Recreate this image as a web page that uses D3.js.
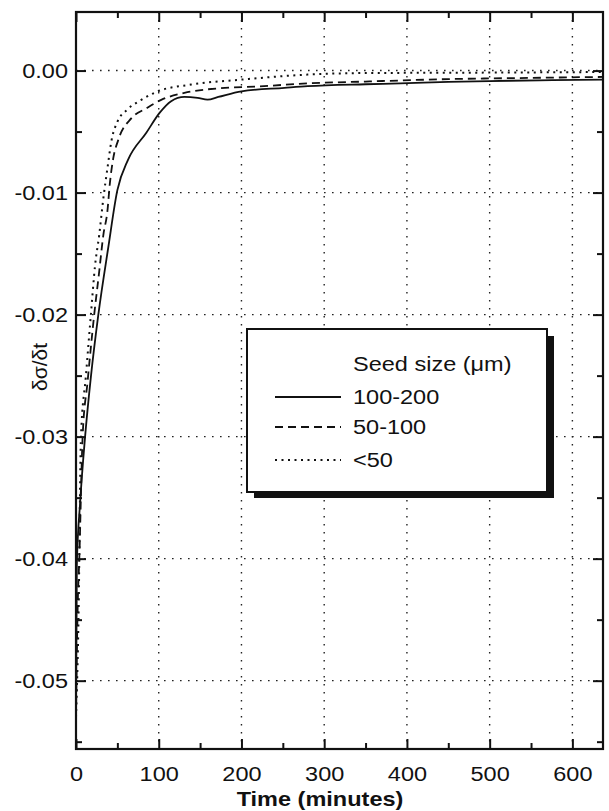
<!DOCTYPE html>
<html><head><meta charset="utf-8">
<script src="https://cdn.jsdelivr.net/npm/d3@7"></script>
<style>
body{margin:0;background:#fff}
text{font-family:"Liberation Sans",Arial,Helvetica,sans-serif;fill:#111}
</style>
</head><body>
<svg id="chart" width="609" height="811"></svg>
<script>
// ---- data ----
const seriesNames = ["100-200", "50-100", "<50"];
const legendTitle = "Seed size (\u03bcm)";
const xTickValues = [0, 100, 200, 300, 400, 500, 600];
const yTickValues = [0, -0.01, -0.02, -0.03, -0.04, -0.05];
const yTickLabels = ["0.00", "-0.01", "-0.02", "-0.03", "-0.04", "-0.05"];
const xTitle = "Time (minutes)";
const yTitle = "\u03b4\u03c3/\u03b4t";

const tSolid = [0, 1, 5, 11, 18, 27, 39, 50, 63, 85, 101, 115, 131, 147, 159, 172, 200, 252, 280, 350, 392, 450, 500, 560, 637];
const vSolid = [-0.052, -0.0405, -0.0354, -0.030, -0.0251, -0.020, -0.0145, -0.0098, -0.0073, -0.0051, -0.00347, -0.00251, -0.00216, -0.00224, -0.00238, -0.00216, -0.0017, -0.00142, -0.00128, -0.00112, -0.00105, -0.00092, -0.00086, -0.0008, -0.00074];

const tDashed = [0, 2, 4, 8, 14, 22, 28, 33, 38, 41, 45, 51, 67, 85, 103, 131, 180, 220, 280, 350, 450, 550, 637];
const vDashed = [-0.053, -0.044, -0.040, -0.030, -0.0255, -0.020, -0.0165, -0.0135, -0.0115, -0.0092, -0.0072, -0.0057, -0.0039, -0.0031, -0.0024, -0.00183, -0.00142, -0.0013, -0.00105, -0.0009, -0.0007, -0.0006, -0.00052];

const tDotted = [0, 3, 6, 12, 18, 23, 28, 33, 38, 43, 50, 62, 79, 99, 139, 200, 280, 350, 450, 550, 637];
const vDotted = [-0.053, -0.045, -0.030, -0.025, -0.020, -0.016, -0.0135, -0.0105, -0.0080, -0.0057, -0.0042, -0.0032, -0.0024, -0.0017, -0.00115, -0.00074, -0.00033, -0.0002, -0.00018, -0.00015, -0.00012];

// ---- layout ----
const svg = d3.select("#chart");
const L = 76, R = 603, T = 12, B = 749;
const SX = 1.12; // horizontal stretch of the scanned lettering
const x = d3.scaleLinear().domain([0, 637]).range([L, R]);
const y = d3.scaleLinear().domain([0.0048, -0.0556]).range([T, B]);

// grid
const grid = svg.append("g").attr("stroke", "#222").attr("stroke-width", 1.4).attr("stroke-dasharray", "1.6,6.4");
xTickValues.filter(d => d > 0).forEach(d => {
  grid.append("line").attr("x1", x(d)).attr("x2", x(d)).attr("y1", T).attr("y2", B);
});
yTickValues.forEach(d => {
  grid.append("line").attr("x1", L).attr("x2", R).attr("y1", y(d)).attr("y2", y(d));
});

const xMinor = d3.range(50, 637, 100);
const yMinor = [-0.005, -0.015, -0.025, -0.035, -0.045, -0.055];

function styleAxis(g) {
  g.select(".domain").remove();
  g.selectAll(".tick line").attr("stroke", "#111").attr("stroke-width", 2);
}
// bottom
svg.append("g").attr("transform", `translate(0,${B})`)
  .call(d3.axisBottom(x).tickValues(xTickValues).tickSizeInner(-10).tickSizeOuter(0).tickPadding(17).tickFormat(d3.format("d")))
  .call(styleAxis)
  .call(g => g.selectAll("text").attr("font-size", 21).attr("fill", "#111")
    .attr("transform", `scale(${SX},1)`));
svg.append("g").attr("transform", `translate(0,${B})`)
  .call(d3.axisBottom(x).tickValues(xMinor).tickSizeInner(-6).tickSizeOuter(0).tickFormat(""))
  .call(styleAxis);
// top
svg.append("g").attr("transform", `translate(0,${T})`)
  .call(d3.axisTop(x).tickValues(xTickValues).tickSizeInner(-10).tickSizeOuter(0).tickFormat(""))
  .call(styleAxis);
svg.append("g").attr("transform", `translate(0,${T})`)
  .call(d3.axisTop(x).tickValues(xMinor).tickSizeInner(-6).tickSizeOuter(0).tickFormat(""))
  .call(styleAxis);
// left
svg.append("g").attr("transform", `translate(${L},0)`)
  .call(d3.axisLeft(y).tickValues(yTickValues).tickSizeInner(-10).tickSizeOuter(0).tickPadding(8)
    .tickFormat((d, i) => yTickLabels[i]))
  .call(styleAxis)
  .call(g => g.selectAll("text").attr("font-size", 21).attr("fill", "#111")
    .each(function() {
      const t = d3.select(this);
      const px = +t.attr("x");
      t.attr("x", 0).attr("transform", `translate(${px},0) scale(${SX},1)`);
    }));
svg.append("g").attr("transform", `translate(${L},0)`)
  .call(d3.axisLeft(y).tickValues(yMinor).tickSizeInner(-6).tickSizeOuter(0).tickFormat(""))
  .call(styleAxis);
// right
svg.append("g").attr("transform", `translate(${R},0)`)
  .call(d3.axisRight(y).tickValues(yTickValues).tickSizeInner(-10).tickSizeOuter(0).tickFormat(""))
  .call(styleAxis);
svg.append("g").attr("transform", `translate(${R},0)`)
  .call(d3.axisRight(y).tickValues(yMinor).tickSizeInner(-6).tickSizeOuter(0).tickFormat(""))
  .call(styleAxis);

// frame
svg.append("rect").attr("x", L).attr("y", T).attr("width", R - L).attr("height", B - T)
  .attr("fill", "none").attr("stroke", "#111").attr("stroke-width", 2.2);

// curves
const line = d3.line().x(d => x(d[0])).y(d => y(d[1])).curve(d3.curveMonotoneX);
svg.append("clipPath").attr("id", "clp").append("rect")
  .attr("x", L).attr("y", T).attr("width", R - L).attr("height", B - T);
const curves = [
  {t: tSolid, v: vSolid, dash: null, w: 1.8},
  {t: tDashed, v: vDashed, dash: "8,5", w: 1.8},
  {t: tDotted, v: vDotted, dash: "2,4.5", w: 2}
];
curves.forEach(c => {
  svg.append("path").attr("clip-path", "url(#clp)")
    .attr("d", line(c.t.map((t, i) => [t, c.v[i]])))
    .attr("fill", "none").attr("stroke", "#111").attr("stroke-width", c.w)
    .attr("stroke-dasharray", c.dash);
});

// stretched text helper
function stext(parent, px, py, str, size, anchor, weight) {
  return parent.append("text").attr("transform", `translate(${px},${py}) scale(${SX},1)`)
    .attr("text-anchor", anchor || "start").attr("font-size", size)
    .attr("font-weight", weight || "normal").text(str);
}

// axis titles
stext(svg, 320, 806, xTitle, 21, "middle", "bold");
svg.append("text").attr("transform", "translate(47,367) rotate(-90)").attr("text-anchor", "middle")
  .attr("font-size", 21).text(yTitle);

// legend
const lg = svg.append("g");
lg.append("rect").attr("x", 254).attr("y", 336).attr("width", 300).attr("height", 162).attr("fill", "#111");
lg.append("rect").attr("x", 247).attr("y", 329).attr("width", 300).attr("height", 163)
  .attr("fill", "#fff").attr("stroke", "#111").attr("stroke-width", 2);
stext(lg, 353, 371, legendTitle, 21);
const rowsY = [397, 427, 460];
seriesNames.forEach((n, i) => {
  lg.append("line").attr("x1", 275).attr("x2", 341).attr("y1", rowsY[i]).attr("y2", rowsY[i])
    .attr("stroke", "#111").attr("stroke-width", curves[i].w).attr("stroke-dasharray", curves[i].dash);
  stext(lg, 353, rowsY[i] + 7, n, 21);
});
</script>
</body></html>
